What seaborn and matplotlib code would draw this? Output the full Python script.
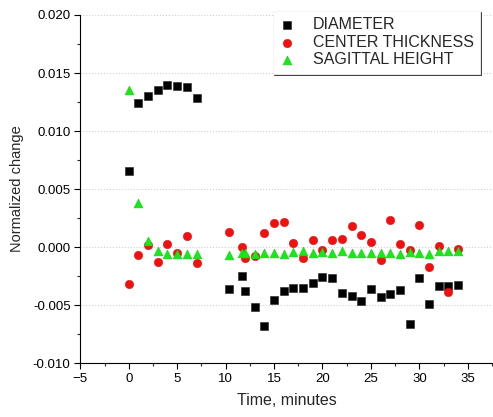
import seaborn as sns
import matplotlib
matplotlib.use('Agg')
import matplotlib.pyplot as plt
from matplotlib.ticker import MultipleLocator
import pandas as pd

# time points (minutes)
time = [0, 1, 2, 3, 4, 5, 6, 7,
        10.4, 11.7, 12, 13, 14, 15, 16, 17, 18, 19, 20, 21, 22, 23,
        24, 25, 26, 27, 28, 29, 30, 31, 32, 33, 34]

diameter = [0.00655, 0.01239, 0.01299, 0.01353, 0.01394, 0.01385, 0.01377, 0.01282,
            -0.00365, -0.00247, -0.00379, -0.00515, -0.00681, -0.00457, -0.00377,
            -0.00356, -0.00353, -0.00307, -0.00261, -0.00270, -0.00397, -0.00420,
            -0.00466, -0.00362, -0.00434, -0.00408, -0.00368, -0.00664, -0.00267,
            -0.00489, -0.00339, -0.00336, -0.00325]

center_thickness = [-0.00319, -0.00072, 0.00015, -0.00127, 0.00028, -0.00049, 0.00095, -0.00135,
                    0.00130, -0.00003, -0.00092, -0.00078, 0.00118, 0.00205, 0.00214,
                    0.00036, -0.00092, 0.00060, -0.00025, 0.00064, 0.00070, 0.00185,
                    0.00105, 0.00043, -0.00115, 0.00234, 0.00026, -0.00026, 0.00187,
                    -0.00173, 0.00012, -0.00392, -0.00016]

sagittal_height = [0.01353, 0.00382, 0.00054, -0.00032, -0.00060, -0.00060, -0.00063, -0.00063,
                   -0.00066, -0.00054, -0.00054, -0.00063, -0.00054, -0.00054, -0.00063,
                   -0.00046, -0.00037, -0.00052, -0.00040, -0.00049, -0.00037, -0.00054,
                   -0.00049, -0.00049, -0.00049, -0.00049, -0.00060, -0.00043, -0.00049,
                   -0.00058, -0.00034, -0.00032, -0.00037]

labels = ['DIAMETER', 'CENTER THICKNESS', 'SAGITTAL HEIGHT']

sns.set_style('ticks')
plt.rcParams['font.family'] = ['Liberation Sans', 'DejaVu Sans']

df = pd.DataFrame({'time': time, 'd': diameter, 'c': center_thickness, 's': sagittal_height})

fig = plt.figure(figsize=(4.93, 4.17), dpi=100)
ax = fig.add_axes([80.3 / 493, (417 - 363) / 417, (493 - 80.3) / 493, 348 / 417])

sns.scatterplot(data=df, x='time', y='d', marker='s', color='black', s=26,
                edgecolor='#222222', linewidth=0.4, label=labels[0], ax=ax, zorder=3)
sns.scatterplot(data=df, x='time', y='c', marker='o', color='#f01010', s=36,
                edgecolor='#e01010', linewidth=0.4, label=labels[1], ax=ax, zorder=3)
sns.scatterplot(data=df, x='time', y='s', marker='^', color='#18e818', s=40,
                edgecolor='#10d010', linewidth=0.4, label=labels[2], ax=ax, zorder=4)

ax.set_xlim(-5, 37.6)
ax.set_ylim(-0.010, 0.020)
ax.xaxis.set_major_locator(MultipleLocator(5))
ax.xaxis.set_minor_locator(MultipleLocator(2.5))
ax.yaxis.set_major_locator(MultipleLocator(0.005))
ax.yaxis.set_minor_locator(MultipleLocator(0.0025))
ax.yaxis.set_major_formatter(matplotlib.ticker.FormatStrFormatter('%.3f'))
ax.tick_params(which='major', direction='out', length=4, width=0.8, pad=3,
               labelsize=9.5, colors='black')
ax.tick_params(which='minor', direction='out', length=2.5, width=0.8)

ax.yaxis.grid(True, linestyle=':', color='#d0d0d0', linewidth=0.8)
ax.xaxis.grid(False)
ax.set_axisbelow(True)

for side in ['top', 'right']:
    ax.spines[side].set_visible(False)
for side in ['left', 'bottom']:
    ax.spines[side].set_color('black')
    ax.spines[side].set_linewidth(0.8)

ax.set_xlabel('Time, minutes', fontsize=11.5, labelpad=6)
ax.set_ylabel('Normalized change', fontsize=10.5, labelpad=6)

leg = ax.legend(loc='upper right', bbox_to_anchor=(480 / 493, 1 - 11 / 417),
                bbox_transform=fig.transFigure, borderaxespad=0, fontsize=11.5,
                frameon=True, fancybox=False, labelspacing=0.15, handletextpad=1.1,
                handlelength=1.0, borderpad=0.4,
                shadow={'ox': 0.8, 'oy': -0.8, 'color': '#333333', 'alpha': 1})
leg.get_frame().set_edgecolor('#f4f4f4')
leg.get_frame().set_linewidth(0.6)
leg.get_frame().set_alpha(1)

fig.savefig('out.png', dpi=100)
